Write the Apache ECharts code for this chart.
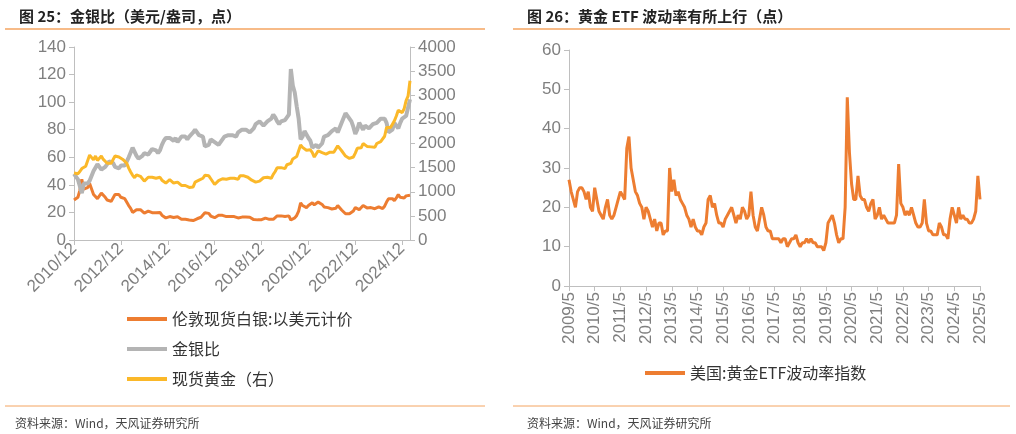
<!DOCTYPE html>
<html><head><meta charset="utf-8">
<script src="https://cdn.jsdelivr.net/npm/echarts@6/dist/echarts.min.js"></script>
<style>body{margin:0;background:#fff}#c{width:1016px;height:434px}</style>
</head><body><div id="c"></div>
<script>
// 左图：2010/12 - 2025/4 月度
var silver = [29,
28,31,36,44,37,36,38,41,40,33,34,30,
31,34,33,31,29,28,28,29,33,33,33,31,
31,30,29,25,23,20,19,22,23,22,21,19.5,
19.5,21,21,19.8,19.4,19.8,21,20,18,17,16,16,
17,16.8,16.3,16.3,16.8,16.2,15,15,15,16,14.5,14,
14.1,15,15.4,16.3,16.5,17,19.8,19.5,19.3,17.4,16.8,16.2,
17,17.9,17.3,17.9,16.7,17,16.3,17,17.4,17,17,16,
17.1,16.6,16.5,16.6,16.5,16.5,15.6,14.8,14.3,14.6,14.2,14.7,
15.6,15.9,15.2,15,14.6,15,16,17.5,18,17.5,17,17,
18,17.5,14.5,15,16,17.8,21,27,25,24,23.5,25,
26,27,25.5,25.5,27.5,27,25.8,24,23,23.5,24,22.5,
23.5,23,25,24.5,21.8,21.5,19,19.5,19,19.5,21,23.5,
23.8,22,22.5,25,24,23.3,24,23.5,23,22.7,23.5,24,
23,22.8,24.5,27.5,30,30,30,28.5,30.5,33,31,30,
30.5,32,33,32.5];
var ratio = [48,
48,44,39,34,41,42,41,43,44,50,51,55,
53,51,51,53,55,57,57,56,53,53,52,54,
54,54,55,60,61,67,67,61,59,60,61,63,
64,62,64,66,66,65,63,65,69,72,74,75,
74,73,72,74,71,73,75,75,75,73,75,76,
78,80,81,76,76,75,68,69,69,73,74,71,
70,69,71,71,75,74,76,75,76,75,75,78,
78,80,81,80,79,78,79,81,84,84,86,85,
83,83,86,86,88,91,89,86,84,86,86,87,
87,91,124,112,107,97,88,73,75,79,79,74,
72,67,68,69,67,68,70,75,76,76,75,79,
78,81,78,79,85,86,92,90,89,86,82,77,
80,85,86,80,83,83,81,82,84,85,85,85,
88,89,88,85,78,78,80,85,84,81,85,88,
89,90,90,102];
var gold = [1390,
1360,1375,1420,1480,1510,1530,1570,1760,1780,1660,1740,1650,
1660,1740,1670,1650,1590,1600,1590,1630,1740,1750,1720,1690,
1670,1630,1590,1490,1410,1340,1290,1350,1350,1320,1280,1220,
1240,1300,1340,1300,1290,1280,1310,1300,1240,1220,1180,1200,
1250,1230,1180,1200,1200,1180,1130,1120,1130,1160,1090,1070,
1100,1200,1240,1240,1260,1280,1340,1340,1330,1270,1240,1150,
1190,1230,1230,1270,1250,1260,1240,1280,1320,1280,1280,1260,
1330,1330,1330,1330,1300,1280,1240,1200,1200,1220,1220,1250,
1290,1320,1300,1290,1280,1360,1420,1500,1510,1500,1470,1480,
1560,1600,1590,1680,1720,1730,1850,1970,1920,1900,1860,1860,
1870,1810,1720,1760,1850,1830,1810,1790,1780,1780,1820,1790,
1820,1860,1950,1930,1850,1840,1740,1760,1690,1660,1720,1800,
1900,1860,1910,2000,1990,1940,1950,1930,1920,1920,2000,2030,
2040,2020,2150,2330,2350,2330,2400,2470,2570,2690,2650,2640,
2720,2890,2980,3300];
// 右图：2009/5 - 2025/5 月度
var gvz = [27,24,22,20,24,25,25,24,
22,24,20,19,25,22,19,18,17,20,22,18,
17,18,20,22,24,23,22,35,38,30,27,24,
23,21,20,17,20,19,17,15,17,14,16,16,
13,14,14,30,24,27,23,24,22,21,20,18,
17,15,17,15,14,14,13,15,16,22,23,20,
21,18,16,16,15,17,18,19,20,18,16,18,
17,20,19,17,18,24,18,15,14,17,20,18,
15,14,14,12,12,12,12,11,12,12,10,11,
12,12,13,11,10,11,11,12,11,12,11,11,
10,10,10,9,11,16,17,18,16,13,11,12,
12,20,48,34,26,22,22,28,23,22,22,20,
19,21,22,17,18,20,17,18,17,16,16,16,
16,18,31,21,20,18,19,18,20,18,16,15,
15,16,22,16,14,14,13,13,13,16,15,13,
13,12,17,20,18,16,20,17,18,17,17,16,
16,17,19,28,22];

function months(y, m, n) {
  var out = [];
  for (var i = 0; i < n; i++) {
    out.push(y + '/' + m);
    m++; if (m > 12) { m = 1; y++; }
  }
  return out;
}
var leftDates = months(2010, 12, silver.length);
var rightDates = months(2009, 5, gvz.length);

var axisLine = {show: true, lineStyle: {color: '#bfbfbf'}};
var lab = {color: '#7f7f7f', fontSize: 17, fontFamily: 'Liberation Sans'};
var plain = function (v) { return String(v); };

var chart = echarts.init(document.getElementById('c'));
chart.setOption({
  animation: false,
  textStyle: {fontFamily: 'Noto Sans CJK SC'},
  title: [
    {text: '图 25：金银比（美元/盎司，点）', left: 14, top: 4, textStyle: {fontSize: 15, fontWeight: 'bold', color: '#222'}},
    {text: '图 26：黄金 ETF 波动率有所上行（点）', left: 522, top: 4, textStyle: {fontSize: 15, fontWeight: 'bold', color: '#222'}},
    {text: '资料来源：Wind，天风证券研究所', left: 10, top: 412, textStyle: {fontSize: 12, fontWeight: 'normal', color: '#444'}},
    {text: '资料来源：Wind，天风证券研究所', left: 522, top: 412, textStyle: {fontSize: 12, fontWeight: 'normal', color: '#444'}}
  ],
  graphic: [
    {type: 'line', shape: {x1: 5, y1: 29, x2: 485, y2: 29}, style: {stroke: '#F4A460', lineWidth: 1.5}},
    {type: 'line', shape: {x1: 513, y1: 29, x2: 1010, y2: 29}, style: {stroke: '#F4A460', lineWidth: 1.5}},
    {type: 'line', shape: {x1: 5, y1: 406, x2: 485, y2: 406}, style: {stroke: '#F4A460', lineWidth: 1}},
    {type: 'line', shape: {x1: 513, y1: 406, x2: 1010, y2: 406}, style: {stroke: '#F4A460', lineWidth: 1}}
  ],
  legend: [
    {orient: 'vertical', left: 122, top: 306, itemGap: 14, itemWidth: 40, itemHeight: 4,
     icon: 'rect', textStyle: {fontSize: 16, color: '#333'},
     data: ['伦敦现货白银:以美元计价', '金银比', '现货黄金（右）']},
    {left: 640, top: 360, itemWidth: 40, itemHeight: 4, icon: 'rect',
     textStyle: {fontSize: 16, color: '#333'}, data: ['美国:黄金ETF波动率指数']}
  ],
  grid: [
    {left: 74, top: 47, width: 336, height: 193},
    {left: 569, top: 50, width: 411, height: 236}
  ],
  xAxis: [
    {type: 'category', gridIndex: 0, data: leftDates, boundaryGap: false, axisLine: axisLine,
     axisTick: {show: true, interval: 23},
     axisLabel: Object.assign({interval: 23, rotate: 45, margin: 6}, lab)},
    {type: 'category', gridIndex: 1, data: rightDates, boundaryGap: false, axisLine: axisLine,
     axisTick: {show: true, interval: 11},
     axisLabel: Object.assign({interval: 11, rotate: 90, margin: 6}, lab)}
  ],
  yAxis: [
    {type: 'value', gridIndex: 0, min: 0, max: 140, interval: 20, splitLine: {show: false},
     axisLine: axisLine, axisTick: {show: true}, axisLabel: lab},
    {type: 'value', gridIndex: 0, min: 0, max: 4000, interval: 500, position: 'right', splitLine: {show: false},
     axisLine: axisLine, axisTick: {show: true}, axisLabel: Object.assign({formatter: plain}, lab)},
    {type: 'value', gridIndex: 1, min: 0, max: 60, interval: 10, splitLine: {show: false},
     axisLine: axisLine, axisTick: {show: true}, axisLabel: lab}
  ],
  series: [
    {name: '伦敦现货白银:以美元计价', type: 'line', xAxisIndex: 0, yAxisIndex: 0, data: silver,
     showSymbol: false, lineStyle: {width: 3, color: '#ED7D31'}, itemStyle: {color: '#ED7D31'}},
    {name: '金银比', type: 'line', xAxisIndex: 0, yAxisIndex: 0, data: ratio,
     showSymbol: false, lineStyle: {width: 4, color: '#B4B4B4'}, itemStyle: {color: '#B4B4B4'}},
    {name: '现货黄金（右）', type: 'line', xAxisIndex: 0, yAxisIndex: 1, data: gold,
     showSymbol: false, lineStyle: {width: 3, color: '#FBB829'}, itemStyle: {color: '#FBB829'}},
    {name: '美国:黄金ETF波动率指数', type: 'line', xAxisIndex: 1, yAxisIndex: 2, data: gvz,
     showSymbol: false, lineStyle: {width: 3, color: '#ED7D31'}, itemStyle: {color: '#ED7D31'}}
  ]
});
</script></body></html>
